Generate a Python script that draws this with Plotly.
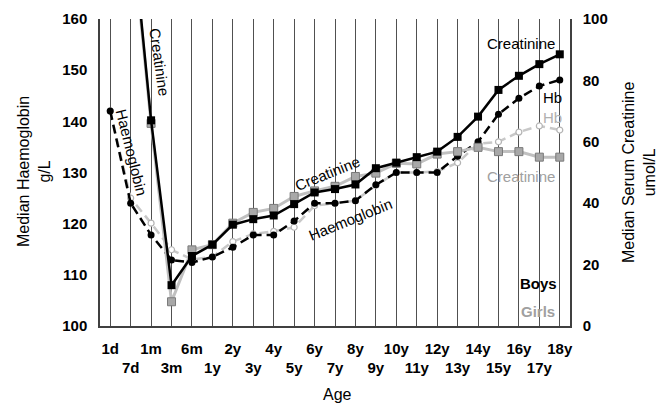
import plotly.graph_objects as go

ages = ["1d", "7d", "1m", "3m", "6m", "1y", "2y", "3y", "4y", "5y", "6y", "7y", "8y",
        "9y", "10y", "11y", "12y", "13y", "14y", "15y", "16y", "17y", "18y"]

# Median haemoglobin g/L (left axis)
boys_hb = [142, 124, 117.8, 112.9, 112.4, 113.5, 115.4, 117.8, 117.8, 120.5, 124, 124, 124.5,
           127.6, 130, 130, 130, 133.2, 136, 141.4, 144.5, 146.9, 148.1]
girls_hb = [142, 125, 120.1, 114.9, 113, 113.5, 116.5, 118, 118.5, 119.3, 123.5, 124, 124.5,
            127.5, 130, 130, 130.2, 131.9, 135.6, 136, 137.9, 139.1, 138.3]

# Median serum creatinine umol/L (right axis)
boys_cr = [145, 135, 67, 13.3, 22.8, 26.5, 33, 34.8, 36, 39.7, 43.5, 44.6, 46.1,
           51.4, 53.2, 55, 56.8, 61.6, 68.2, 76.9, 81.5, 85.3, 88.5]
girls_cr = [145, 133, 66, 7.9, 24.8, 26.5, 33.5, 37, 38.3, 42.2, 44, 45.5, 48.7,
            49.8, 53, 52.8, 56, 56.8, 58.2, 56.8, 56.8, 55, 55]

tick_text = [a if i % 2 == 0 else "<br>" + a for i, a in enumerate(ages)]

FONT = "Liberation Sans, Arial, sans-serif"
fig = go.Figure()

fig.add_trace(go.Scatter(x=ages, y=girls_hb, yaxis="y", mode="lines+markers",
                         line=dict(color="#c8c8c8", width=2.5, dash="9px,5px"),
                         marker=dict(symbol="circle", size=6, color="white",
                                     line=dict(color="#b4b4b4", width=1.2)),
                         name="Girls Hb", cliponaxis=True))
fig.add_trace(go.Scatter(x=ages, y=boys_hb, yaxis="y", mode="lines+markers",
                         line=dict(color="black", width=2.5, dash="9px,5px"),
                         marker=dict(symbol="circle", size=7, color="black"),
                         name="Boys Hb", cliponaxis=True))
fig.add_trace(go.Scatter(x=ages, y=girls_cr, yaxis="y2", mode="lines+markers",
                         line=dict(color="#c0c0c0", width=3),
                         marker=dict(symbol="square", size=8, color="#a8a8a8",
                                     line=dict(color="#7a7a7a", width=1)),
                         name="Girls Creatinine", cliponaxis=True))
fig.add_trace(go.Scatter(x=ages, y=boys_cr, yaxis="y2", mode="lines+markers",
                         line=dict(color="black", width=2.5),
                         marker=dict(symbol="square", size=8, color="black"),
                         name="Boys Creatinine", cliponaxis=True))

# the page body has an 8px margin, so the figure starts at (8, 8) on screen
OFF = 8
SCR_W, SCR_H = 672, 413
PL, PR, PT, PB = 100, 570, 19, 326  # plot area in screen pixels
W, H = SCR_W - OFF, SCR_H - OFF
L, T = PL - OFF, PT - OFF
R, B = SCR_W - PR, SCR_H - PB
pw, ph = PR - PL, PB - PT


def px(xs):
    return (xs - PL) / pw


def py(ys):
    return (PB - ys) / ph


def ann(text, x, y, color="black", angle=0, size=15, bold=False):
    return dict(text=text, x=px(x), y=py(y), xref="paper", yref="paper",
                showarrow=False, textangle=angle, xanchor="center", yanchor="middle",
                font=dict(family=FONT, size=size, color=color,
                          weight="bold" if bold else "normal"))


annotations = [
    ann("Creatinine", 159, 62, angle=82),
    ann("Haemoglobin", 132, 152, angle=76),
    ann("Creatinine", 327, 173, angle=-22),
    ann("Haemoglobin", 350, 219, angle=-22),
    ann("Creatinine", 521, 43),
    ann("Hb", 552, 97),
    ann("Hb", 552, 117, color="#b0b0b0"),
    ann("Creatinine", 521, 176, color="#a0a0a0"),
    ann("Boys", 538, 283, bold=True),
    ann("Girls", 538, 311, color="#a0a0a0", bold=True),
    ann("Median Haemoglobin<br>g/L", 34, 172, angle=-90, size=16),
    ann("Median Serum Creatinine<br>umol/L", 639, 172, angle=-90, size=16),
    ann("Age", 337, 394, size=16),
]

fig.update_layout(
    width=W, height=H,
    margin=dict(l=L, r=R, t=T, b=B, pad=0, autoexpand=False),
    paper_bgcolor="white", plot_bgcolor="white",
    showlegend=False,
    font=dict(family=FONT, color="black"),
    xaxis=dict(type="category", range=[-0.5, len(ages) - 0.5], automargin=False,
               tickmode="array", tickvals=ages, ticktext=tick_text,
               showgrid=True, gridcolor="#505050", gridwidth=1,
               showline=True, linecolor="#404040", linewidth=1.5,
               ticks="", zeroline=False, tickangle=0, ticklabelstandoff=8,
               tickfont=dict(family=FONT, size=15, color="black", weight="bold")),
    yaxis=dict(range=[100, 160], dtick=10, showgrid=False, zeroline=False,
               automargin=False,
               showline=True, linecolor="#404040", linewidth=1.5, ticks="",
               ticklabelstandoff=8,
               tickfont=dict(family=FONT, size=15, color="black", weight="bold")),
    yaxis2=dict(range=[0, 100], dtick=20, overlaying="y", side="right",
                showgrid=False, zeroline=False, automargin=False,
                showline=True, linecolor="#404040", linewidth=1.5, ticks="",
                ticklabelstandoff=8,
                tickfont=dict(family=FONT, size=15, color="black", weight="bold")),
    annotations=annotations,
)

fig.write_html("out.html")
